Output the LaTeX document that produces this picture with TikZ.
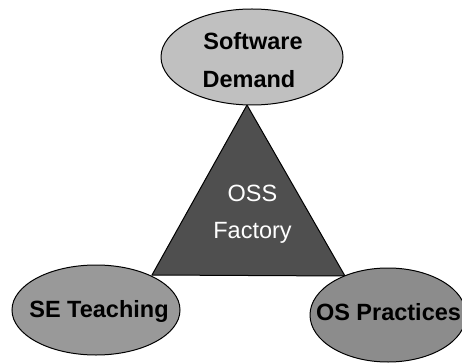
\documentclass[tikz,border=0pt]{standalone}
\usepackage{fontspec}
\setmainfont{Liberation Sans}
\usetikzlibrary{shapes.geometric}
\definecolor{topfill}{HTML}{C0C0C0}
\definecolor{trifill}{HTML}{4F4F4F}
\definecolor{sefill}{HTML}{999999}
\definecolor{osfill}{HTML}{8C8C8C}
\tikzset{
  blob/.style={ellipse, draw=black, line width=1pt, inner sep=0pt},
  lbl/.style={font=\fontsize{23.5}{38}\selectfont\bfseries, align=center, text=black},
}
\begin{document}
\begin{tikzpicture}[x=1pt,y=-1pt]
\useasboundingbox (0,0) rectangle (462,363);
\begin{scope}
\clip (0,0) rectangle (462,363);
% triangle
\coordinate (apex) at (247,105);
\coordinate (bl) at (152,275);
\coordinate (br) at (345,276);
\draw[fill=trifill, line width=1pt, line join=miter] (apex) -- (bl) -- (br) -- cycle;
% ellipses
\node[blob, fill=topfill, minimum width=182pt, minimum height=96pt] (sd) at (252,57) {};
\node[blob, fill=sefill, minimum width=168pt, minimum height=90pt] (se) at (96,310) {};
\node[blob, fill=osfill, minimum width=156pt, minimum height=94pt] (os) at (388,315) {};
\end{scope}
\node[lbl, anchor=base] (sdt1) at (253,50) {Software};
\node[lbl, anchor=base] (sdt2) at (249,88) {Demand};
\node[lbl, anchor=base] (set) at (99,317) {SE Teaching};
\node[lbl, anchor=base] (ost) at (388.5,320) {OS Practices};
\node[font=\fontsize{23.5}{37}\selectfont, text=white, anchor=base] (oss1) at (252.5,201) {OSS};
\node[font=\fontsize{23.5}{37}\selectfont, text=white, anchor=base] (oss2) at (252.5,238) {Factory};
\end{tikzpicture}
\end{document}
